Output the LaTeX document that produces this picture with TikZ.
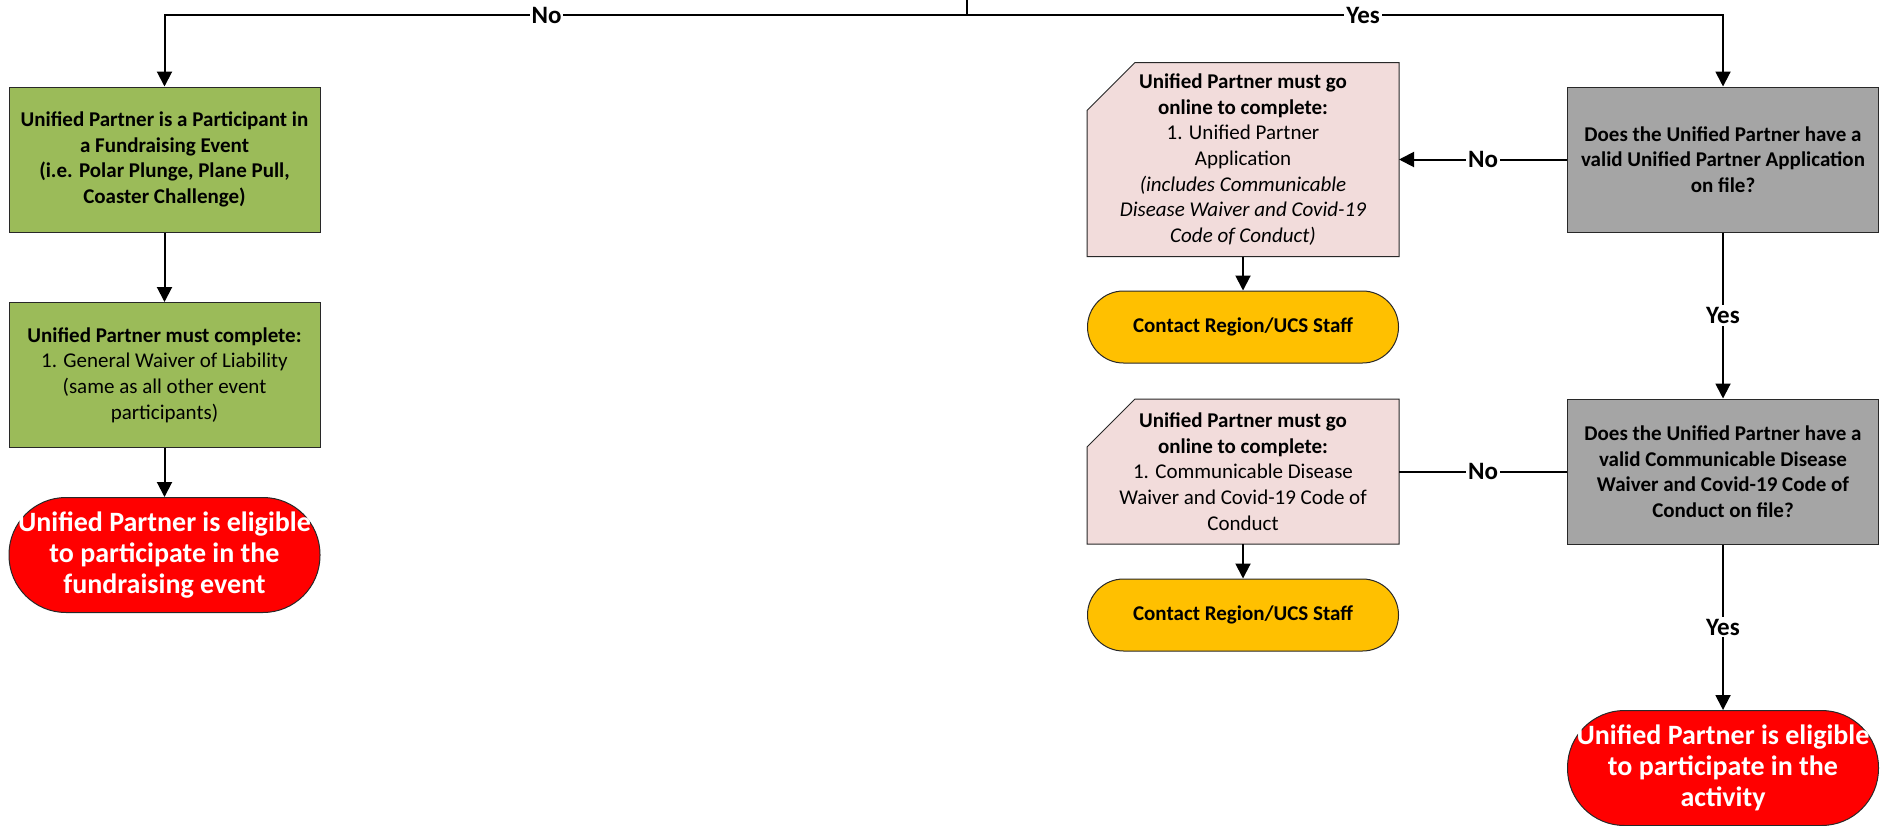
\documentclass[tikz,border=0pt]{standalone}
\usepackage{fontspec}
\setmainfont{Carlito}
\usetikzlibrary{arrows.meta,backgrounds}
\definecolor{gfill}{RGB}{155,187,89}
\definecolor{qfill}{RGB}{165,165,165}
\definecolor{pfill}{RGB}{242,220,219}
\definecolor{yfill}{RGB}{255,192,0}
\definecolor{rfill}{RGB}{255,0,0}
\definecolor{edge}{RGB}{40,40,40}
\begin{document}
\begin{tikzpicture}[x=1pt,y=-1pt,
  box/.style={draw=edge,line width=1pt,minimum width=311pt,inner sep=0pt,align=center,font=\fontsize{21}{25.6}\selectfont},
  greenbox/.style={box,fill=gfill,minimum height=145pt},
  graybox/.style={box,fill=qfill,minimum height=145pt,font=\bfseries\fontsize{21}{25.6}\selectfont},
  pinkbox/.style={box,draw=none},
  pill/.style={box,fill=yfill,rounded corners=36pt,minimum height=72pt,font=\bfseries\fontsize{21}{25.6}\selectfont},
  endpill/.style={box,fill=rfill,rounded corners=57pt,minimum height=115pt,text=white,font=\bfseries\fontsize{28}{31}\selectfont},
  conn/.style={line width=2pt,black},
  arr/.style={conn,-{Triangle[length=15pt,width=15pt]}},
  lbl/.style={fill=white,inner sep=2pt,font=\bfseries\fontsize{25}{28}\selectfont},
]
\useasboundingbox (0,0) rectangle (1895,825);

% left column
\node[greenbox,font=\bfseries\fontsize{21}{25.6}\selectfont] (g1) at (164.5,159.5) {Unified Partner is a Participant in\\ a Fundraising Event\\ (i.e. Polar Plunge, Plane Pull,\\ Coaster Challenge)};
\node[greenbox] (g2) at (164.5,375) {\textbf{Unified Partner must complete:}\\ 1. General Waiver of Liability\\ (same as all other event\\ participants)};
\node[endpill] (r1) at (164.5,555) {Unified Partner is eligible\\ to participate in the\\ fundraising event};

% right column
\node[graybox] (q1) at (1723,159.5) {Does the Unified Partner have a\\ valid Unified Partner Application\\ on file?};
\node[graybox] (q2) at (1723,471.5) {Does the Unified Partner have a\\ valid Communicable Disease\\ Waiver and Covid-19 Code of\\ Conduct on file?};
\node[endpill] (r2) at (1723,768) {Unified Partner is eligible\\ to participate in the\\ activity};

% middle column
\node[pinkbox,minimum height=193pt] (p1) at (1243,159.5) {\textbf{Unified Partner must go}\\ \textbf{online to complete:}\\ 1. Unified Partner\\ Application\\ \textit{(includes Communicable}\\ \textit{Disease Waiver and Covid-19}\\ \textit{Code of Conduct)}};
\node[pill] (y1) at (1243,327) {Contact Region/UCS Staff};
\node[pinkbox,minimum height=144pt] (p2) at (1243,471.5) {\textbf{Unified Partner must go}\\ \textbf{online to complete:}\\ 1. Communicable Disease\\ Waiver and Covid-19 Code of\\ Conduct};
\node[pill] (y2) at (1243,615) {Contact Region/UCS Staff};

% connectors
\coordinate (top) at (967,0);
\coordinate (split) at (967,15);
\draw[conn] (top) -- (split);
\draw[arr] (split) -| node[lbl,pos=0.262] {No} (g1.north);
\draw[arr] (split) -| node[lbl,pos=0.262] {Yes} (q1.north);
\draw[arr] (g1) -- (g2);
\draw[arr] (g2) -- (r1);
\draw[arr] (q1.west) -- node[lbl] {No} (p1.east);
\draw[conn] (q2.west) -- node[lbl] {No} (p2.east);
\draw[arr] (q1) -- node[lbl] {Yes} (q2);
\draw[arr] (q2) -- node[lbl] {Yes} (r2);
\draw[arr] (p1) -- (y1);
\draw[arr] (p2) -- (y2);

\begin{scope}[on background layer]
\fill[white] (0,0) rectangle (1895,825);
\path[fill=pfill,draw=edge,line width=1pt] (p1.south west) -- (p1.south east) -- (p1.north east) -- ([xshift=48pt]p1.north west) -- ([yshift=-48pt]p1.north west) -- cycle;
\path[fill=pfill,draw=edge,line width=1pt] (p2.south west) -- (p2.south east) -- (p2.north east) -- ([xshift=48pt]p2.north west) -- ([yshift=-48pt]p2.north west) -- cycle;
\end{scope}
\end{tikzpicture}
\end{document}
